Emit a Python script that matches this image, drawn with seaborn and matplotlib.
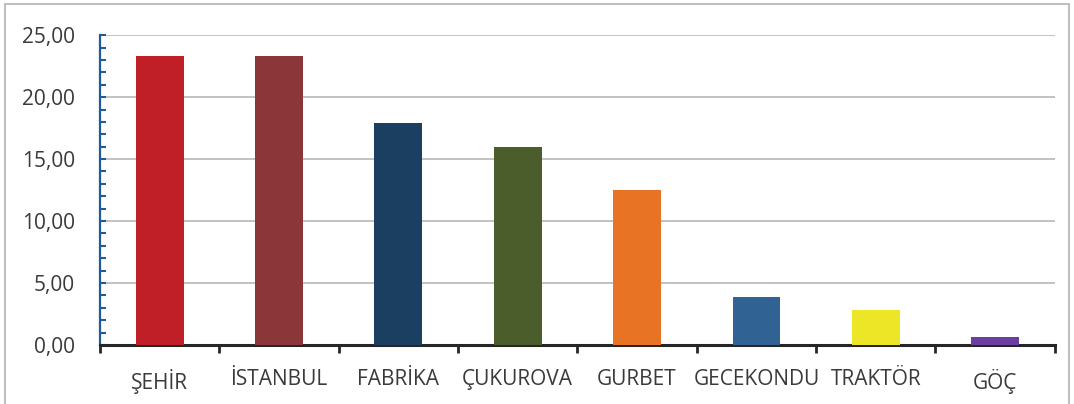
import matplotlib
matplotlib.use("Agg")
import pandas as pd
import matplotlib.pyplot as plt
import seaborn as sns
from matplotlib.ticker import MultipleLocator, FuncFormatter
from matplotlib.patches import Rectangle

# Data
categories = ['ŞEHİR', 'İSTANBUL', 'FABRİKA', 'ÇUKUROVA', 'GURBET', 'GECEKONDU', 'TRAKTÖR', 'GÖÇ']
values = [23.3, 23.3, 17.9, 16.0, 12.5, 3.85, 2.8, 0.65]
colors = ['#C11F27', '#8B373A', '#1B3F61', '#4A5D2B', '#E87325', '#306293', '#ECE626', '#6B3EA0']

df = pd.DataFrame({'kelime': categories, 'deger': values})

sns.set_style('white')
plt.rcParams['font.family'] = ['Open Sans', 'DejaVu Sans']

fig = plt.figure(figsize=(10.74, 4.04), dpi=100)
ax = fig.add_axes([0.0931, 0.146, 0.889, 0.767])

sns.barplot(data=df, x='kelime', y='deger', hue='kelime', palette=colors,
            width=0.4, legend=False, ax=ax, saturation=1, linewidth=0, zorder=3)

ax.set_xlim(-0.5, len(categories) - 0.5)
ax.set_ylim(0, 25)
ax.set_xlabel('')
ax.set_ylabel('')

# gridlines
ax.yaxis.set_major_locator(MultipleLocator(5))
ax.yaxis.set_minor_locator(MultipleLocator(1))
ax.grid(axis='y', which='major', color='#BDBDBD', linewidth=1.3, zorder=0)
ax.set_axisbelow(True)
ax.yaxis.set_major_formatter(FuncFormatter(lambda v, p: f'{v:.2f}'.replace('.', ',')))

# spines
for s in ['top', 'right']:
    ax.spines[s].set_visible(False)
ax.spines['left'].set_color('#1F5B99')
ax.spines['left'].set_linewidth(1.6)
ax.spines['bottom'].set_color('#262626')
ax.spines['bottom'].set_linewidth(2.2)

# y ticks inside, blue, with minor ticks
ax.tick_params(axis='y', which='both', direction='in', color='#1F5B99', width=1.5,
               left=True, labelsize=15, labelcolor='#3A3A3A', pad=18)
ax.tick_params(axis='y', which='major', length=4)
ax.tick_params(axis='y', which='minor', length=4)

# x ticks at category boundaries
ax.set_xticks(range(len(categories)))
ax.set_xticklabels(categories)
ax.tick_params(axis='x', which='major', length=0, labelsize=15, labelcolor='#3A3A3A', pad=17)
ax.set_xticks([i - 0.5 for i in range(len(categories) + 1)], minor=True)
ax.tick_params(axis='x', which='minor', direction='out', length=6, width=2, color='#262626', bottom=True)

# outer frame
fig.patches.append(Rectangle((0.005, -0.01), 0.99, 1.0, transform=fig.transFigure,
                             fill=False, edgecolor='#BFBFBF', linewidth=1.5))

fig.savefig('out.png', dpi=100)
